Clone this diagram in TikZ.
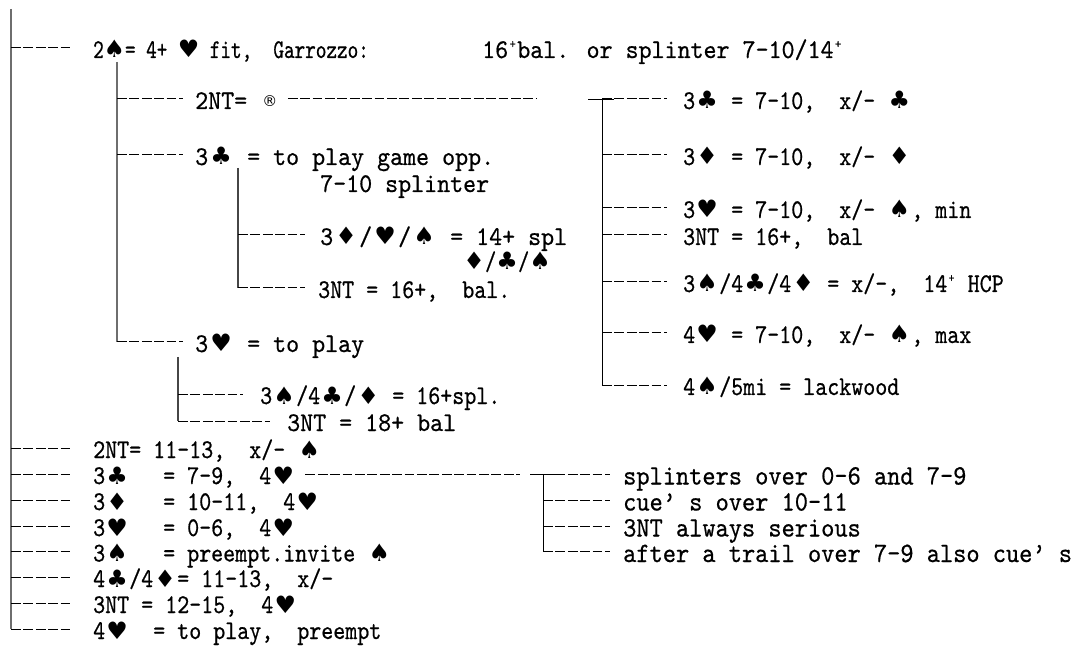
\documentclass[tikz,border=0pt]{standalone}
\usepackage{fontspec}
\newfontfamily\mfA{lmmono10-regular.otf}[FakeStretch=0.748,FakeBold=0.6]
\newfontfamily\mfB{lmmono10-regular.otf}[FakeStretch=0.776,FakeBold=0.6]
\newfontfamily\mfC{lmmono10-regular.otf}[FakeStretch=0.847,FakeBold=0.6]
\newfontfamily\mfD{lmmono10-regular.otf}[FakeStretch=0.917,FakeBold=0.6]
\newfontfamily\mfE{lmmono10-regular.otf}[FakeStretch=0.898,FakeBold=0.6]
\newfontfamily\suitf{DejaVu Sans}
\newcommand\suitglyph[1]{\setbox0\hbox{00}\hbox to \wd0{\hss{\suitf\fontsize{24}{24}\selectfont #1}\hss}}
\newcommand\spd{\suitglyph{♠}}
\newcommand\hrt{\suitglyph{♥}}
\newcommand\dmd{\suitglyph{♦}}
\newcommand\clb{\suitglyph{♣}}
\newcommand\fc{\setbox0\hbox{00}\hbox to \wd0{,\hss}}
\newcommand\fap{\setbox0\hbox{00}\hbox to \wd0{’\hss}}
\newcommand\sps{\setbox0\hbox{0}\hbox to 0.7\wd0{\hss\raisebox{10pt}{\fontsize{13}{13}\selectfont +}\hss}}
\newcommand\rg{\setbox0\hbox{0}\hbox to 1.5\wd0{\hss\raisebox{2pt}{\suitf\fontsize{15}{15}\selectfont ®}\hss}}
\newcommand\lab[1]{\makebox[70pt][l]{#1}}
\definecolor{trunkgray}{RGB}{110,110,110}
\definecolor{trunkdark}{RGB}{70,70,70}
\begin{document}
\begin{tikzpicture}[x=1pt,y=-1pt,
  txt/.style={anchor=west, inner sep=0pt, text height=20pt, text depth=0pt},
  pA/.style={txt, font={\mfA\fontsize{27}{30}\selectfont}},
  pB/.style={txt, font={\mfB\fontsize{27}{30}\selectfont}},
  pC/.style={txt, font={\mfC\fontsize{27}{30}\selectfont}},
  pD/.style={txt, font={\mfD\fontsize{27}{30}\selectfont}},
  pE/.style={anchor=west, inner sep=0pt, text height=21pt, text depth=0pt, font={\mfE\fontsize{28}{30}\selectfont}},
  dsh/.style={line width=1pt, dash pattern=on 9.8pt off 2.6pt},
  trunk/.style={line width=1.4pt, draw=trunkgray},
  trunkb/.style={line width=1.2pt, draw=trunkdark},
  twig/.style={line width=0.9pt}]
\useasboundingbox (0,0) rectangle (1082,652);

% main column
\node[pA] (m0a) at (93,48) {2\spd= 4+ \hrt{} fit\fc{} Garrozzo:};
\node[pD] (m0b) at (482,48) {16\sps bal. or splinter 7-10/14\sps};
\node[pC] (m1) at (93,448) {2NT= 11-13\fc{} x/- \spd};
\node[pC] (m2) at (93,474) {\lab{3\clb}= 7-9\fc{} 4\hrt};
\node[pC] (m3) at (93,500) {\lab{3\dmd}= 10-11\fc\hspace{12pt}4\hrt};
\node[pC] (m4) at (93,526) {\lab{3\hrt}= 0-6\fc{} 4\hrt};
\node[pC] (m5) at (93,551.5) {\lab{3\spd}= preempt.invite \spd};
\node[pC] (m6) at (93,577) {4\clb/4\dmd= 11-13\fc{} x/-};
\node[pC] (m7) at (93,603) {3NT = 12-15\fc{} 4\hrt};
\node[pC] (m8) at (93,629) {4\hrt{}~ = to play\fc{} preempt};

% level 1
\node[pD] (a1) at (195,99) {2NT= \rg};
\node[pD] (a2) at (195,155) {3\clb{} = to play game opp.};
\node[pD] (a2b) at (320,182) {7-10 splinter};
\node[pD] (a3) at (195,342) {3\hrt{} = to play};
\node[pD] (b1) at (320,235) {3\dmd/\hrt/\spd{} = 14+ spl};
\node[pB] (b1b) at (463,260) {\dmd/\clb/\spd};
\node[pC] (b2) at (318,288) {3NT = 16+\fc{} bal.};
\node[pC] (c1) at (260,394) {3\spd/4\clb/\dmd{} = 16+spl.};
\node[pD] (c2) at (287,421) {3NT = 18+ bal};

% right tree
\node[pC] (r1) at (683,99) {3\clb{} = 7-10\fc{} x/- \clb};
\node[pC] (r2) at (683,155) {3\dmd{} = 7-10\fc{} x/- \dmd};
\node[pC] (r3) at (683,208) {3\hrt{} = 7-10\fc{} x/- \spd, min};
\node[pC] (r4) at (683,235) {3NT = 16+\fc{} bal};
\node[pC] (r5) at (683,282) {3\spd/4\clb/4\dmd{} = x/-\fc{} 14\sps{} HCP};
\node[pC] (r6) at (683,333) {4\hrt{} = 7-10\fc{} x/- \spd, max};
\node[pC] (r7) at (683,385) {4\spd/5mi = lackwood};

% bottom tree
\node[pE] (s1) at (623,474) {splinters over 0-6 and 7-9};
\node[pE] (s2) at (623,500) {cue\fap s over 10-11};
\node[pE] (s3) at (623,526) {3NT always serious};
\node[pE] (s4) at (623,551.5) {after a trail over 7-9 also cue\fap s};

% connectors
\coordinate (t0) at (11,9);
\draw[trunk] (t0) -- (t0 |- m8.west);
\foreach \n in {m0a,m1,m2,m3,m4,m5,m6,m7,m8}
  \draw[dsh] (t0 |- \n.west) -- ([xshift=-21pt]\n.west);

\coordinate (t1) at (117,62);
\draw[trunk] (t1) -- (t1 |- a3.west);
\foreach \n in {a1,a2,a3}
  \draw[dsh] (t1 |- \n.west) -- ([xshift=-12pt]\n.west);

\coordinate (t2) at (238,168);
\draw[trunkb] (t2) -- (t2 |- b2.west);
\draw[dsh] (t2 |- b1.west) -- ([xshift=-15pt]b1.west);
\draw[dsh] (t2 |- b2.west) -- ([xshift=-13pt]b2.west);

\coordinate (t3) at (178,357);
\draw[trunkb] (t3) -- (t3 |- c2.west);
\draw[dsh] (t3 |- c1.west) -- ([xshift=-17pt]c1.west);
\draw[dsh] (t3 |- c2.west) -- ([xshift=-17pt]c2.west);

\coordinate (rj) at (588,99);
\coordinate (t4) at (602,99);
\draw[dsh] ([xshift=8pt]a1.east) -- ([xshift=-51pt]rj);
\draw[twig] (rj) -- ([xshift=12pt]t4);
\draw[twig] (t4) -- (t4 |- r7.west);
\foreach \n in {r1,r2,r3,r4,r5,r6,r7}
  \draw[dsh] (t4 |- \n.west) -- ([xshift=-16pt]\n.west);

\coordinate (bj) at (530,474);
\coordinate (t5) at (543,474);
\draw[dsh] ([xshift=10pt]m2.east) -- ([xshift=-10pt]bj);
\draw[twig] (bj) -- ([xshift=13pt]t5);
\draw[twig] (t5) -- (t5 |- s4.west);
\foreach \n in {s1,s2,s3,s4}
  \draw[dsh] (t5 |- \n.west) -- ([xshift=-13pt]\n.west);
\end{tikzpicture}
\end{document}
